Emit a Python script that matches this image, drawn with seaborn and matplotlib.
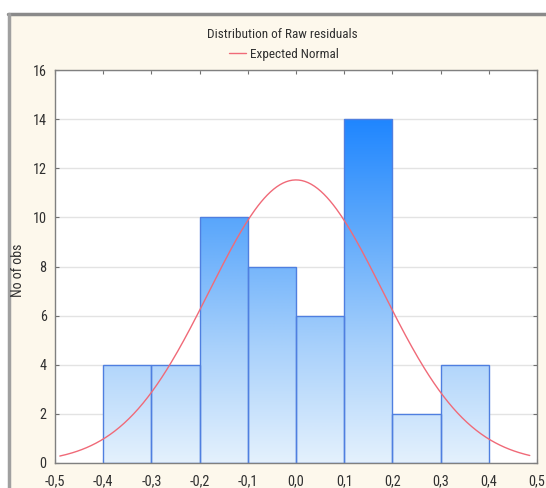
import numpy as np
import pandas as pd
import seaborn as sns
import matplotlib.pyplot as plt
from matplotlib import font_manager
from matplotlib.colors import LinearSegmentedColormap
from matplotlib.patches import Rectangle
from matplotlib.lines import Line2D

# Histogram of raw residuals: bin edges and observation counts
bin_edges = [-0.4, -0.3, -0.2, -0.1, 0.0, 0.1, 0.2, 0.3, 0.4]
counts = [4, 4, 10, 8, 6, 14, 2, 4]

# Parameters of the expected normal curve
resid_mean = 0.0
resid_sd = 0.18

x_ticks = [-0.5, -0.4, -0.3, -0.2, -0.1, 0.0, 0.1, 0.2, 0.3, 0.4, 0.5]
y_ticks = [0, 2, 4, 6, 8, 10, 12, 14, 16]

sns.set_theme(style="white")

# prefer a narrow sans face when one is available
installed = {f.name for f in font_manager.fontManager.ttflist}
narrow = [n for n in ("Liberation Sans Narrow", "DejaVu Sans Condensed", "Roboto Condensed",
                      "Open Sans Condensed") if n in installed]
if narrow:
    plt.rcParams["font.family"] = [narrow[0], "DejaVu Sans"]
    fs = 9.5
else:
    plt.rcParams["font.family"] = ["Liberation Sans", "DejaVu Sans"]
    fs = 8.3

bg = "#fdf8ec"
fig = plt.figure(figsize=(5.46, 4.88), dpi=100, facecolor=bg)

# window frame
fig.patches.append(Rectangle((0, 1 - 14 / 488), 1, 14 / 488, transform=fig.transFigure,
                             facecolor="white", edgecolor="none", zorder=-2))
fig.patches.append(Rectangle((0, 0), 8 / 546, 1, transform=fig.transFigure,
                             facecolor="white", edgecolor="none", zorder=-2))
fig.lines.append(Line2D([8 / 546, 1], [1 - 14 / 488, 1 - 14 / 488], transform=fig.transFigure,
                        color="#8a8a8a", lw=2.5, zorder=-1))
fig.lines.append(Line2D([9 / 546, 9 / 546], [0, 1 - 14 / 488], transform=fig.transFigure,
                        color="#a0a0a0", lw=2.5, zorder=-1))

ax = fig.add_axes([55 / 546, 25 / 488, (537 - 55) / 546, (463 - 70) / 488])
ax.set_facecolor("white")

centers = [(a + b) / 2 for a, b in zip(bin_edges[:-1], bin_edges[1:])]
df = pd.DataFrame({"resid": centers, "n": counts})
sns.histplot(data=df, x="resid", weights="n", bins=bin_edges, ax=ax,
             color="#6aaefc", edgecolor="#4f7fe0", linewidth=1.0, alpha=1.0, zorder=2)

# vertical gradient fill clipped to each bar
cmap = LinearSegmentedColormap.from_list("grad", ["#e4f1fd", "#a9d1fb", "#62abfb", "#1f86ff"])
grad = np.linspace(0, 1, 256).reshape(-1, 1)
for bar in ax.patches:
    bar.set_facecolor("none")
    im = ax.imshow(grad, cmap=cmap, origin="lower", aspect="auto",
                   extent=[-0.5, 0.5, 0, 14], zorder=1.5, interpolation="bilinear")
    im.set_clip_path(bar)

# expected normal curve scaled to counts
xs = np.linspace(-0.49, 0.485, 300)
n_total = sum(counts)
width = bin_edges[1] - bin_edges[0]
ys = n_total * width / (resid_sd * np.sqrt(2 * np.pi)) * np.exp(-0.5 * ((xs - resid_mean) / resid_sd) ** 2)
sns.lineplot(x=xs, y=ys, ax=ax, color="#f06a78", lw=1.0, zorder=3, label="Expected Normal")

ax.set_xlim(-0.5, 0.5)
ax.set_ylim(0, 16)
ax.set_xticks(x_ticks)
ax.set_yticks(y_ticks)
ax.set_xticklabels([f"{t:.1f}".replace(".", ",") for t in x_ticks])
ax.set_yticklabels([str(t) for t in y_ticks])
ax.yaxis.grid(True, color="#e3e3e3", lw=1.0)
ax.set_axisbelow(True)
for s in ax.spines.values():
    s.set_color("#808080")
    s.set_linewidth(1.0)
ax.tick_params(axis="both", which="both", direction="in", length=3, width=0.8,
               color="#707070", labelsize=fs + 0.8, labelcolor="#303030",
               top=True, right=True, bottom=True, left=True)
ax.tick_params(axis="x", pad=8)
ax.tick_params(axis="y", pad=6)
ax.set_xlabel("")
ax.set_ylabel("No of obs", fontsize=fs + 0.5, color="#303030", va="center")
ax.yaxis.set_label_coords(-0.077, 0.49)

leg = ax.legend(loc="center", bbox_to_anchor=((284 - 55) / 482, 1 + 16 / 393), frameon=False,
                fontsize=fs, handlelength=1.3, handletextpad=0.35)
for t in leg.get_texts():
    t.set_color("#303030")
fig.text(282 / 546, 1 - 35 / 488, "Distribution of Raw residuals", ha="center", va="center",
         fontsize=fs, color="#303030")

fig.savefig("out.png", dpi=100, facecolor=bg)
